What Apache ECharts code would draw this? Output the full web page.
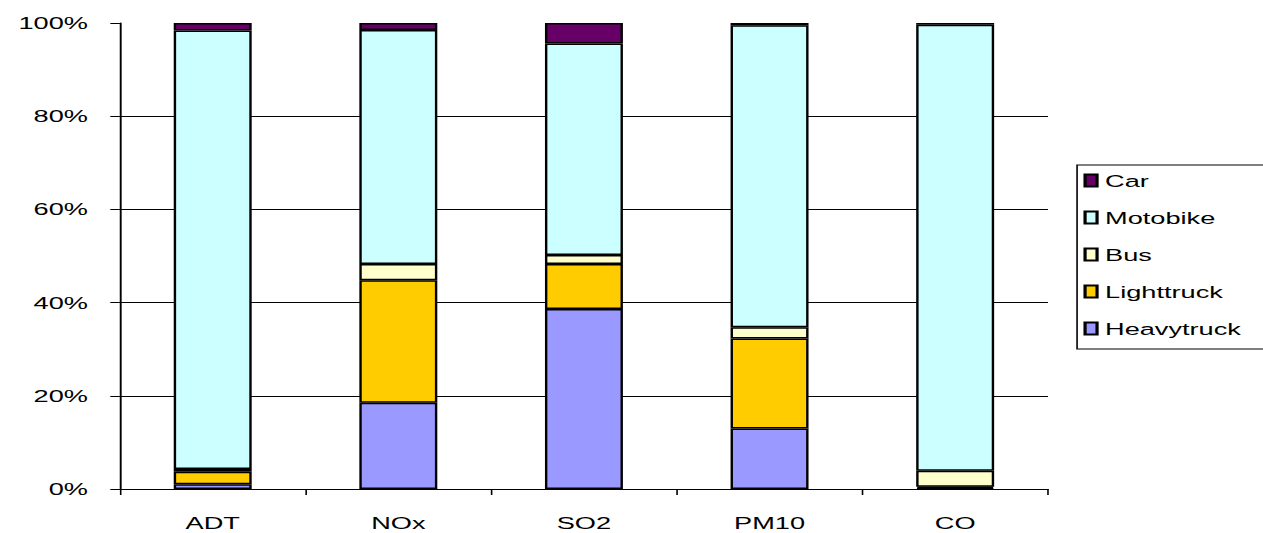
<!DOCTYPE html>
<html>
<head>
<meta charset="utf-8">
<script src="https://cdn.jsdelivr.net/npm/echarts@6/dist/echarts.min.js"></script>
<style>
  html, body { margin: 0; padding: 0; background: #fff; overflow: hidden; }
  #chart { width: 790px; height: 533px; transform: scaleX(1.59873); transform-origin: 0 0; }
</style>
</head>
<body>
<div id="chart"></div>
<script>
// Share of each vehicle class in traffic (ADT) and in each pollutant, percent
const categories = ['ADT', 'NOx', 'SO2', 'PM10', 'CO'];
const heavytruck = [1.0, 18.5, 38.6, 13.0, 0.2];
const lighttruck = [2.7, 26.3, 9.7, 19.3, 0.3];
const bus        = [0.6, 3.5, 1.9, 2.4, 3.4];
const motobike   = [94.1, 50.2, 45.4, 64.8, 95.7];
const car        = [1.6, 1.5, 4.4, 0.5, 0.4];
const legendOrder = ['Car', 'Motobike', 'Bus', 'Lighttruck', 'Heavytruck'];

const FONT = 'Liberation Sans, Arial, sans-serif';

function stackBar(name, data, color) {
  return {
    name: name,
    type: 'bar',
    stack: 'total',
    data: data,
    barWidth: '42%',
    itemStyle: { color: color, borderColor: '#000', borderWidth: 1.5 },
    emphasis: { disabled: true }
  };
}

const chart = echarts.init(document.getElementById('chart'), null, { renderer: 'svg' });
chart.setOption({
  animation: false,
  backgroundColor: '#fff',
  grid: { left: 75, right: 134.5, top: 23, bottom: 44 },
  legend: {
    orient: 'vertical',
    left: 673.7,
    top: 165,
    data: legendOrder,
    icon: 'rect',
    itemWidth: 7.5,
    itemHeight: 12,
    itemGap: 20,
    padding: [7, 60, 12, 4],
    borderColor: '#000',
    borderWidth: 1,
    backgroundColor: '#fff',
    textStyle: { fontFamily: FONT, fontSize: 17, color: '#000', lineHeight: 17 }
  },
  xAxis: {
    type: 'category',
    data: categories,
    axisLine: { lineStyle: { color: '#000', width: 1.2 } },
    axisTick: { show: true, length: 6, lineStyle: { color: '#000' } },
    axisLabel: { fontFamily: FONT, fontSize: 17, color: '#000', margin: 25 }
  },
  yAxis: {
    type: 'value',
    min: 0,
    max: 100,
    interval: 20,
    axisLine: { show: true, lineStyle: { color: '#000', width: 1.2 } },
    axisTick: { show: true, length: 6, lineStyle: { color: '#000' } },
    axisLabel: { fontFamily: FONT, fontSize: 17, color: '#000', margin: 20, formatter: '{value}%' },
    splitLine: { show: true, showMaxLine: false, lineStyle: { color: '#000', width: 1.2 } }
  },
  series: [
    stackBar('Heavytruck', heavytruck, '#9999FF'),
    stackBar('Lighttruck', lighttruck, '#FFCC00'),
    stackBar('Bus', bus, '#FFFFCC'),
    stackBar('Motobike', motobike, '#CCFFFF'),
    stackBar('Car', car, '#660066')
  ]
});
</script>
</body>
</html>
